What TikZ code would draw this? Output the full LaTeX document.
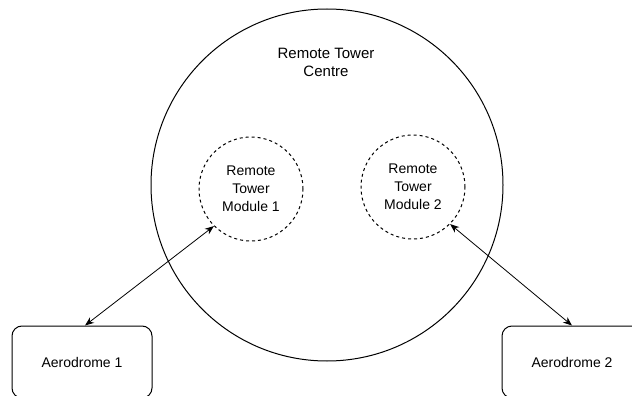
\documentclass[tikz,border=0pt]{standalone}
\usepackage{fontspec}
\setmainfont{Liberation Sans}
\usetikzlibrary{arrows.meta}
\begin{document}
\begin{tikzpicture}[x=1pt,y=-1pt,
  line width=1pt,
  bigcirc/.style={circle, draw, inner sep=0pt, minimum size=352pt},
  modcirc/.style={circle, draw, inner sep=0pt, minimum size=104pt,
    dash pattern=on 3pt off 3pt, align=center, font=\fontsize{14}{18}\selectfont},
  aerobox/.style={draw, rounded corners=10pt, minimum width=140pt, minimum height=72pt,
    inner sep=0pt, font=\fontsize{14}{18}\selectfont},
  lbl/.style={align=center, font=\fontsize{15}{18}\selectfont},
  link/.style={{Stealth[length=9pt,width=7pt]}-{Stealth[length=9pt,width=7pt]}, line width=0.8pt}
]
\useasboundingbox (0,0) rectangle (632,396);
\clip (0,0) rectangle (632,396);
\node[bigcirc] (c) at (327,185) {};
\node[lbl] (ct) at (326,62) {Remote Tower\\Centre};
\node[modcirc] (m1) at (251,189) {Remote\\Tower\\Module 1};
\node[modcirc] (m2) at (413,187) {Remote\\Tower\\Module 2};
\node[aerobox] (a1) at (82,362) {Aerodrome 1};
\node[aerobox] (a2) at (572,362) {Aerodrome 2};
\draw[link] ([xshift=3pt]a1.north) -- (m1.225);
\draw[link] (m2.-45) -- (a2.north);
\end{tikzpicture}
\end{document}
